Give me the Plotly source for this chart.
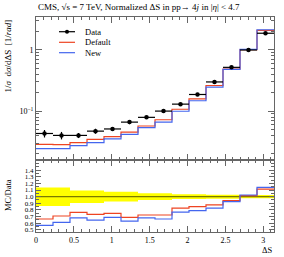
import numpy as np
import plotly.graph_objects as go
from plotly.subplots import make_subplots

# ---- data ----
n_bins = 14
bin_edges = list(np.linspace(0.0, np.pi, n_bins + 1))
data_vals = [0.043, 0.040, 0.040, 0.047, 0.051, 0.066, 0.079, 0.100, 0.130, 0.187, 0.300, 0.520, 1.00, 1.88]
data_relerr = [0.14, 0.14, 0.095, 0.095, 0.075, 0.075, 0.05, 0.05, 0.035, 0.035, 0.03, 0.03, 0.025, 0.025]
ratio_default = [0.662, 0.707, 0.763, 0.732, 0.747, 0.687, 0.722, 0.722, 0.825, 0.85, 0.875, 0.94, 1.015, 1.115]
ratio_new = [0.565, 0.61, 0.68, 0.646, 0.687, 0.63, 0.68, 0.662, 0.765, 0.79, 0.825, 0.925, 1.025, 1.14]
x_ticks = [0, 0.5, 1, 1.5, 2, 2.5, 3]
x_tick_labels = ["0", "0.5", "1", "1.5", "2", "2.5", "3"]
ratio_ticks = [0.5, 0.6, 0.7, 0.8, 0.9, 1.0, 1.1, 1.2, 1.3, 1.4]
legend_labels = ["Data", "Default", "New"]

edges = np.array(bin_edges)
centers = 0.5 * (edges[:-1] + edges[1:])
halfw = 0.5 * (edges[1:] - edges[:-1])
data = np.array(data_vals)
derr = data * np.array(data_relerr)
default_vals = data * np.array(ratio_default)
new_vals = data * np.array(ratio_new)

def step(v):
    v = list(v)
    return v + [v[-1]]

RED = "#EE4422"
BLUE = "#4466EE"
FONT = "Liberation Serif"
GRAY = "#666666"

fig = make_subplots(rows=2, cols=1, shared_xaxes=True, vertical_spacing=0,
                    row_heights=[0.665, 0.335])

# main panel
fig.add_trace(go.Scatter(x=list(edges), y=step(default_vals), mode="lines", line_shape="hv",
                         line=dict(color=RED, width=1.2), name="Default"), row=1, col=1)
fig.add_trace(go.Scatter(x=list(edges), y=step(new_vals), mode="lines", line_shape="hv",
                         line=dict(color=BLUE, width=1.2), name="New"), row=1, col=1)
fig.add_trace(go.Scatter(x=list(centers), y=list(data), mode="markers", name="Data",
                         marker=dict(color="black", size=4.5),
                         error_x=dict(type="data", array=list(halfw), color="black", thickness=1.2, width=0),
                         error_y=dict(type="data", array=list(derr), color="black", thickness=1.2, width=0)),
              row=1, col=1)

# ratio panel
band_hi = 1 + np.array(data_relerr)
band_lo = 1 - np.array(data_relerr)
fig.add_trace(go.Scatter(x=list(edges), y=step(band_hi), mode="lines", line_shape="hv",
                         line=dict(width=0, color="#FFFF00"), hoverinfo="skip"), row=2, col=1)
fig.add_trace(go.Scatter(x=list(edges), y=step(band_lo), mode="lines", line_shape="hv",
                         line=dict(width=0, color="#FFFF00"), fill="tonexty", fillcolor="#FFFF00",
                         hoverinfo="skip"), row=2, col=1)
fig.add_trace(go.Scatter(x=[edges[0], edges[-1]], y=[1, 1], mode="lines",
                         line=dict(color="#7A7A00", width=1.2)), row=2, col=1)
fig.add_trace(go.Scatter(x=list(edges), y=step(ratio_default), mode="lines", line_shape="hv",
                         line=dict(color=RED, width=1.2)), row=2, col=1)
fig.add_trace(go.Scatter(x=list(edges), y=step(ratio_new), mode="lines", line_shape="hv",
                         line=dict(color=BLUE, width=1.2)), row=2, col=1)

axis_common = dict(showline=True, linecolor=GRAY, linewidth=1, mirror="ticks",
                   ticks="inside", tickcolor=GRAY, showgrid=False, zeroline=False)

fig.update_xaxes(range=[0, np.pi], tickvals=x_ticks, ticktext=x_tick_labels, ticklen=6,
                 minor=dict(dtick=0.1, ticklen=3, tickcolor=GRAY, ticks="inside"),
                 **axis_common)
fig.update_xaxes(showticklabels=False, row=1, col=1)
fig.update_xaxes(showticklabels=True, tickfont=dict(family=FONT, size=8, color="black"), row=2, col=1)

minor_log = []
for d in [0.01, 0.1, 1]:
    for k in range(2, 10):
        minor_log.append(k * d)
fig.update_yaxes(type="log", range=[-1.8, 0.54], tickvals=[0.1, 1],
                 ticktext=["10<sup>−1</sup>", "1"], ticklen=6,
                 tickfont=dict(family=FONT, size=8, color="black"),
                 minor=dict(tickvals=minor_log, ticklen=3, tickcolor=GRAY, ticks="inside"),
                 row=1, col=1, **axis_common)
fig.update_yaxes(range=[0.465, 1.555], tickvals=ratio_ticks,
                 ticktext=[f"{v:.1f}" for v in ratio_ticks], ticklen=5,
                 tickfont=dict(family=FONT, size=7, color="black"),
                 minor=dict(dtick=0.05, ticklen=3, tickcolor=GRAY, ticks="inside"),
                 row=2, col=1, **axis_common)

# manual legend (compact, like the reference)
leg_colors = ["black", RED, BLUE]
leg_y = [0.9316, 0.8823, 0.834]
shapes = []
annotations = []
for lab, col, yy in zip(legend_labels, leg_colors, leg_y):
    shapes.append(dict(type="line", xref="paper", yref="paper", x0=0.0966, x1=0.164, y0=yy, y1=yy,
                       line=dict(color=col, width=1.2)))
    annotations.append(dict(text=lab, x=0.1975, y=yy, xref="paper", yref="paper",
                            xanchor="left", yanchor="middle", showarrow=False,
                            font=dict(family=FONT, size=8.5)))
shapes.append(dict(type="circle", xref="paper", yref="paper", x0=0.1303 - 0.0085, x1=0.1303 + 0.0085,
                   y0=leg_y[0] - 0.0095, y1=leg_y[0] + 0.0095, fillcolor="black", line=dict(width=0)))

annotations += [
    dict(text="CMS, √s = 7 TeV, Normalized ΔS in pp→ 4<i>j</i> in |<i>η</i>| < 4.7",
         x=0, y=1.045, xref="paper", yref="paper", xanchor="left", yanchor="middle",
         showarrow=False, font=dict(family=FONT, size=9)),
    dict(text="1/<i>σ</i>  d<i>σ</i>/dΔS  [1/<i>rad</i>]", textangle=-90,
         x=-0.118, y=1.0, xref="paper", yref="paper", xanchor="center", yanchor="top",
         showarrow=False, font=dict(family=FONT, size=9)),
    dict(text="MC/Data", textangle=-90,
         x=-0.118, y=0.255, xref="paper", yref="paper", xanchor="center", yanchor="top",
         showarrow=False, font=dict(family=FONT, size=8.5)),
    dict(text="ΔS", x=1.0, y=-0.084, xref="paper", yref="paper", xanchor="right", yanchor="middle",
         showarrow=False, font=dict(family=FONT, size=8.5)),
]

fig.update_layout(
    width=284, height=257,
    margin=dict(l=36, r=10, t=17, b=25),
    paper_bgcolor="white", plot_bgcolor="white",
    font=dict(family=FONT, size=8, color="black"),
    showlegend=False,
    shapes=shapes,
    annotations=annotations,
)

fig.write_html("out.html", config={"displayModeBar": False},
               post_script="document.body.style.margin='0px';")
